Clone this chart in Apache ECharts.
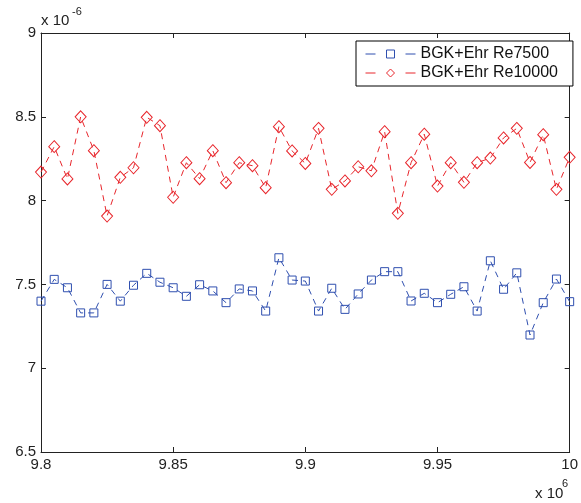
<!DOCTYPE html>
<html>
<head>
<meta charset="utf-8">
<script src="https://cdn.jsdelivr.net/npm/echarts@6/dist/echarts.min.js"></script>
<style>html,body{margin:0;padding:0;background:#fff}#c{width:581px;height:503px}</style>
</head>
<body>
<div id="c"></div>
<script>
// x positions (×10^6)
var xValues = [9.800, 9.805, 9.810, 9.815, 9.820, 9.825, 9.830, 9.835, 9.840, 9.845,
               9.850, 9.855, 9.860, 9.865, 9.870, 9.875, 9.880, 9.885, 9.890, 9.895,
               9.900, 9.905, 9.910, 9.915, 9.920, 9.925, 9.930, 9.935, 9.940, 9.945,
               9.950, 9.955, 9.960, 9.965, 9.970, 9.975, 9.980, 9.985, 9.990, 9.995, 10.000];
// BGK+Ehr Re7500 (×10^-6)
var re7500 = [7.40, 7.53, 7.48, 7.33, 7.33, 7.50, 7.40, 7.495, 7.566, 7.513,
              7.48, 7.429, 7.498, 7.461, 7.391, 7.473, 7.461, 7.341, 7.659, 7.526,
              7.52, 7.341, 7.477, 7.351, 7.443, 7.526, 7.576, 7.576, 7.401, 7.447,
              7.391, 7.441, 7.486, 7.341, 7.641, 7.471, 7.569, 7.198, 7.391, 7.532, 7.397];
// BGK+Ehr Re10000 (×10^-6)
var re10000 = [8.17, 8.322, 8.129, 8.50, 8.298, 7.908, 8.139, 8.196, 8.497, 8.447,
               8.02, 8.226, 8.131, 8.298, 8.107, 8.226, 8.208, 8.077, 8.441, 8.296,
               8.222, 8.431, 8.067, 8.117, 8.202, 8.178, 8.411, 7.924, 8.226, 8.396,
               8.087, 8.226, 8.109, 8.226, 8.254, 8.374, 8.431, 8.228, 8.393, 8.067, 8.258];
var seriesNames = ['BGK+Ehr Re7500', 'BGK+Ehr Re10000'];
var xTicks = {min: 9.8, max: 10, step: 0.05};
var yTicks = {min: 6.5, max: 9, step: 0.5};

var BLUE = '#2F4FAF', RED = '#E8262C', AX = '#222';
var FONT = 'Liberation Sans, Arial, Helvetica, sans-serif';

function pairs(xs, ys) { return xs.map(function (x, i) { return [x, ys[i]]; }); }
function fmt(v) { return String(+(+v).toFixed(3)); }

var chart = echarts.init(document.getElementById('c'), null, {renderer: 'canvas'});
var axisCommon = {
  axisLine: {show: true, onZero: false, lineStyle: {color: AX, width: 1}},
  axisTick: {show: true, inside: true, length: 5, lineStyle: {color: AX, width: 1}},
  splitLine: {show: false}
};
chart.setOption({
  animation: false,
  backgroundColor: '#fff',
  grid: {left: 41, right: 9, top: 33, bottom: 51, containLabel: false},
  xAxis: [
    Object.assign({type: 'value', position: 'bottom', min: xTicks.min, max: xTicks.max, interval: xTicks.step,
      axisLabel: {show: true, margin: 5, color: '#222', fontSize: 15, fontFamily: FONT, formatter: fmt}}, axisCommon),
    Object.assign({type: 'value', position: 'top', min: xTicks.min, max: xTicks.max, interval: xTicks.step,
      axisLabel: {show: false}}, axisCommon)
  ],
  yAxis: [
    Object.assign({type: 'value', position: 'left', min: yTicks.min, max: yTicks.max, interval: yTicks.step,
      axisLabel: {show: true, margin: 5, color: '#222', fontSize: 15, fontFamily: FONT, formatter: fmt}}, axisCommon),
    Object.assign({type: 'value', position: 'right', min: yTicks.min, max: yTicks.max, interval: yTicks.step,
      axisLabel: {show: false}}, axisCommon)
  ],
  legend: {
    orient: 'vertical', left: 356, top: 41,
    backgroundColor: '#fff', borderColor: '#000', borderWidth: 1,
    padding: [5, 15, 5, 9], itemGap: 3, itemWidth: 50, itemHeight: 10,
    itemStyle: {borderWidth: 1},
    lineStyle: {width: 1, type: [10, 30]},
    textStyle: {fontSize: 16, fontFamily: FONT, color: '#111'},
    data: seriesNames
  },
  series: [
    {
      name: seriesNames[0], type: 'line', data: pairs(xValues, re7500),
      color: BLUE, symbol: 'rect', symbolSize: 8,
      itemStyle: {color: 'rgba(255,255,255,0)', borderColor: BLUE, borderWidth: 1},
      lineStyle: {color: BLUE, width: 1, type: [6, 5]},
      clip: true, z: 3
    },
    {
      name: seriesNames[1], type: 'line', data: pairs(xValues, re10000),
      color: RED, symbol: 'diamond', symbolSize: [11, 12],
      itemStyle: {color: 'rgba(255,255,255,0)', borderColor: RED, borderWidth: 1},
      lineStyle: {color: RED, width: 1, type: [6, 5]},
      clip: true, z: 3
    }
  ],
  graphic: [
    {type: 'text', left: 41, top: 13, style: {text: 'x 10', font: '15px ' + FONT, fill: '#222'}},
    {type: 'text', left: 72, top: 6, style: {text: '-6', font: '11px ' + FONT, fill: '#222'}},
    {type: 'text', left: 535, top: 486, style: {text: 'x 10', font: '15px ' + FONT, fill: '#222'}},
    {type: 'text', left: 562, top: 478, style: {text: '6', font: '11px ' + FONT, fill: '#222'}}
  ]
});
</script>
</body>
</html>
